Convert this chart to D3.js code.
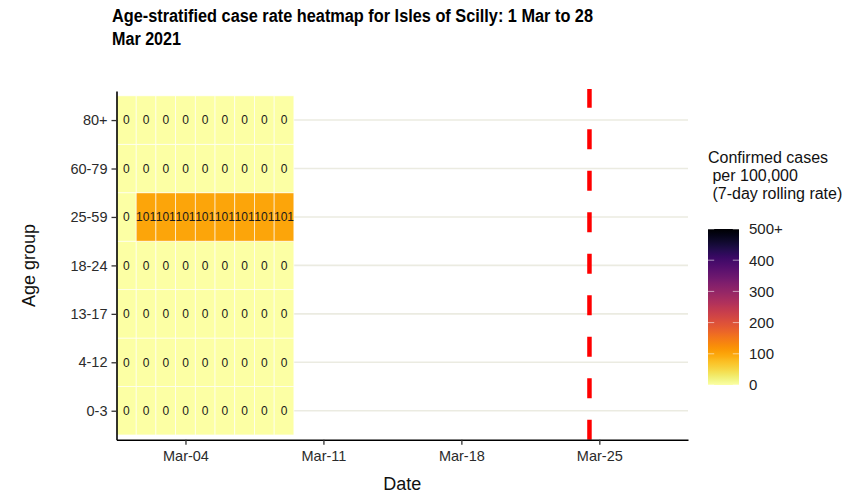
<!DOCTYPE html>
<html>
<head>
<meta charset="utf-8">
<script src="https://cdn.jsdelivr.net/npm/d3@7"></script>
<style>
  html, body { margin: 0; padding: 0; background: #fff; }
  svg { display: block; font-family: "Liberation Sans", Arial, Helvetica, sans-serif; }
</style>
</head>
<body>
<svg id="chart" width="854" height="497"></svg>
<script>
// Age bands, bottom to top
const ageGroups = ["0-3", "4-12", "13-17", "18-24", "25-59", "60-79", "80+"];

// Reporting dates with data
const dates = ["2021-03-01", "2021-03-02", "2021-03-03", "2021-03-04", "2021-03-05",
               "2021-03-06", "2021-03-07", "2021-03-08", "2021-03-09"];

// 7-day rolling case rate per 100,000, one array per age band
const rate0to3   = [0, 0, 0, 0, 0, 0, 0, 0, 0];
const rate4to12  = [0, 0, 0, 0, 0, 0, 0, 0, 0];
const rate13to17 = [0, 0, 0, 0, 0, 0, 0, 0, 0];
const rate18to24 = [0, 0, 0, 0, 0, 0, 0, 0, 0];
const rate25to59 = [0, 101, 101, 101, 101, 101, 101, 101, 101];
const rate60to79 = [0, 0, 0, 0, 0, 0, 0, 0, 0];
const rate80plus = [0, 0, 0, 0, 0, 0, 0, 0, 0];

// Date axis
const xDomainDates = ["2021-02-28T12:00", "2021-03-29T12:00"];
const xTickDates = ["2021-03-04", "2021-03-11", "2021-03-18", "2021-03-25"];

// Reference date drawn as dashed red line
const markerDate = "2021-03-24T12:00";

// Colour bar
const colourMax = 500;
const legendTicks = [0, 100, 200, 300, 400, 500];
const legendTickLabels = ["0", "100", "200", "300", "400", "500+"];

const titleLines = ["Age-stratified case rate heatmap for Isles of Scilly: 1 Mar to 28", "Mar 2021"];
const legendTitleLines = ["Confirmed cases", " per 100,000", " (7-day rolling rate)"];

// ---------------------------------------------------------------
const rateRows = [rate0to3, rate4to12, rate13to17, rate18to24, rate25to59, rate60to79, rate80plus];
const parseDay = d3.utcParse("%Y-%m-%d");
const parseTime = d3.utcParse("%Y-%m-%dT%H:%M");

const cells = [];
ageGroups.forEach((g, i) => {
  dates.forEach((d, j) => {
    cells.push({ group: g, date: parseDay(d), value: rateRows[i][j] });
  });
});

const svg = d3.select("#chart");

const panel = { left: 116.5, right: 688, top: 91, bottom: 439.8 };

const x = d3.scaleUtc()
  .domain(xDomainDates.map(parseTime))
  .range([panel.left, panel.right]);

const y = d3.scalePoint()
  .domain(ageGroups)
  .range([panel.bottom, panel.top])
  .padding(0.6);

const colour = d3.scaleSequential(t => d3.interpolateInferno(1 - t))
  .domain([0, colourMax])
  .clamp(true);

const halfDay = 12 * 3600 * 1000;
const step = y.step();

// Horizontal grid lines
svg.append("g")
  .selectAll("line")
  .data(ageGroups)
  .join("line")
  .attr("x1", panel.left)
  .attr("x2", panel.right)
  .attr("y1", d => y(d))
  .attr("y2", d => y(d))
  .attr("stroke", "#ebebe1")
  .attr("stroke-width", 1.6);

// Heatmap tiles
svg.append("g")
  .selectAll("rect")
  .data(cells)
  .join("rect")
  .attr("x", d => x(new Date(+d.date - halfDay)))
  .attr("width", d => x(new Date(+d.date + halfDay)) - x(new Date(+d.date - halfDay)))
  .attr("y", d => y(d.group) - step / 2)
  .attr("height", step)
  .attr("fill", d => colour(d.value))
  .attr("stroke", "rgba(255,255,255,0.75)")
  .attr("stroke-width", 0.8);

// Tile labels
svg.append("g")
  .selectAll("text")
  .data(cells)
  .join("text")
  .attr("x", d => x(d.date))
  .attr("y", d => y(d.group))
  .attr("dy", "0.36em")
  .attr("text-anchor", "middle")
  .attr("font-size", "12px")
  .attr("fill", "#1a1a1a")
  .text(d => d3.format("d")(d.value));

// Reference date
svg.append("line")
  .attr("x1", x(parseTime(markerDate)))
  .attr("x2", x(parseTime(markerDate)))
  .attr("y1", panel.bottom)
  .attr("y2", panel.top - 2)
  .attr("stroke", "#ff0000")
  .attr("stroke-width", 4.5)
  .attr("stroke-dasharray", "20 21.5");

// Axes
const xAxis = svg.append("g")
  .attr("transform", `translate(0,${panel.bottom})`)
  .call(d3.axisBottom(x)
    .tickValues(xTickDates.map(parseDay))
    .tickFormat(d3.utcFormat("%b-%d"))
    .tickSize(5)
    .tickSizeOuter(0)
    .tickPadding(6));

const yAxis = svg.append("g")
  .attr("transform", `translate(${panel.left},0)`)
  .call(d3.axisLeft(y)
    .tickSize(5)
    .tickSizeOuter(0)
    .tickPadding(4));

[xAxis, yAxis].forEach(ax => {
  ax.select(".domain").attr("stroke", "#000").attr("stroke-width", 1.6);
  ax.selectAll(".tick line").attr("stroke", "#333").attr("stroke-width", 1.3);
  ax.selectAll(".tick text")
    .attr("fill", "#2b2b2b")
    .attr("font-size", "14.5px")
    .attr("font-family", "Liberation Sans, Arial, sans-serif");
});

// Axis titles
svg.append("text")
  .attr("x", (panel.left + panel.right) / 2)
  .attr("y", 490)
  .attr("text-anchor", "middle")
  .attr("font-size", "18px")
  .attr("fill", "#111")
  .text("Date");

svg.append("text")
  .attr("transform", `translate(35,${(panel.top + panel.bottom) / 2}) rotate(-90)`)
  .attr("text-anchor", "middle")
  .attr("font-size", "18px")
  .attr("fill", "#111")
  .text("Age group");

// Title
const titleWidths = [481, 69];
svg.append("g")
  .selectAll("text")
  .data(titleLines)
  .join("text")
  .attr("x", 112)
  .attr("y", (d, i) => 21.5 + i * 23.5)
  .attr("font-size", "18px")
  .attr("font-weight", "bold")
  .attr("fill", "#000")
  .attr("textLength", (d, i) => titleWidths[i])
  .attr("lengthAdjust", "spacingAndGlyphs")
  .text(d => d);

// Legend
const legend = { x: 708, width: 31, top: 229, bottom: 385 };
const legendY = d3.scaleLinear().domain([0, colourMax]).range([legend.bottom, legend.top]);

svg.append("g")
  .selectAll("text")
  .data(legendTitleLines)
  .join("text")
  .attr("x", legend.x)
  .attr("y", (d, i) => 163 + i * 18)
  .attr("font-size", "16px")
  .attr("fill", "#111")
  .attr("xml:space", "preserve")
  .style("white-space", "pre")
  .text(d => d);

const defs = svg.append("defs");
const grad = defs.append("linearGradient")
  .attr("id", "rateGradient")
  .attr("x1", 0).attr("y1", 1).attr("x2", 0).attr("y2", 0);
d3.range(0, 1.0001, 0.02).forEach(t => {
  grad.append("stop")
    .attr("offset", t)
    .attr("stop-color", colour(t * colourMax));
});

svg.append("rect")
  .attr("x", legend.x)
  .attr("y", legend.top)
  .attr("width", legend.width)
  .attr("height", legend.bottom - legend.top)
  .attr("fill", "url(#rateGradient)");

const legendTickG = svg.append("g");
legendTicks.forEach(v => {
  [[legend.x, legend.x + legend.width / 5], [legend.x + legend.width * 4 / 5, legend.x + legend.width]].forEach(([a, b]) => {
    legendTickG.append("line")
      .attr("x1", a).attr("x2", b)
      .attr("y1", legendY(v)).attr("y2", legendY(v))
      .attr("stroke", "rgba(255,255,255,0.55)")
      .attr("stroke-width", 1);
  });
});

svg.append("g")
  .selectAll("text")
  .data(legendTicks)
  .join("text")
  .attr("x", legend.x + legend.width + 10)
  .attr("y", d => legendY(d))
  .attr("dy", "0.36em")
  .attr("font-size", "15px")
  .attr("fill", "#222")
  .text((d, i) => legendTickLabels[i]);
</script>
</body>
</html>
